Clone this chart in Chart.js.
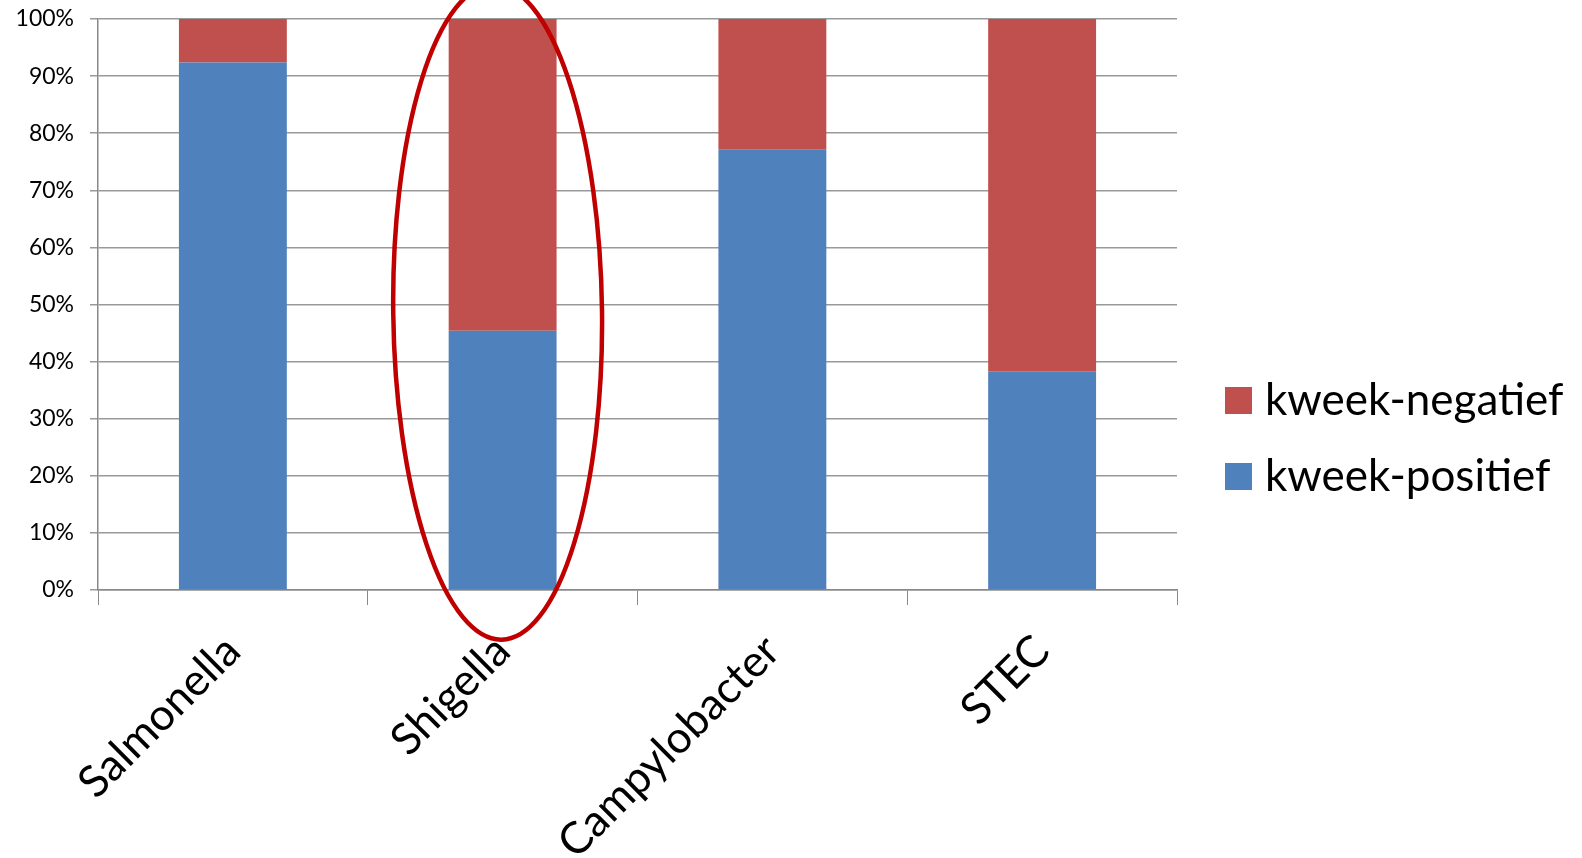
<!DOCTYPE html>
<html>
<head>
<meta charset="utf-8">
<script src="https://cdn.jsdelivr.net/npm/chart.js@4/dist/chart.umd.min.js"></script>
<style>
    html, body { margin: 0; padding: 0; background: #fff; }
    #wrap { width: 1582px; height: 858px; position: relative; }
</style>
</head>
<body>
<div id="wrap"><canvas id="chart"></canvas></div>
<script>
// dati del grafico
const categories = ['Salmonella', 'Shigella', 'Campylobacter', 'STEC'];
const positief = [92.4, 45.4, 77.1, 38.3];
const negatief = [7.6, 54.6, 22.9, 61.7];
const yTicks = [0, 10, 20, 30, 40, 50, 60, 70, 80, 90, 100];

// ellisse rossa attorno a Shigella
const ellipsePlugin = {
    id: 'ellipse',
    afterDatasetsDraw(chart) {
        const x = chart.scales.x;
        const y = chart.scales.y;
        const ctx = chart.ctx;
        const cx = x.getPixelForValue(1) - 5;
        const catW = x.getPixelForValue(1) - x.getPixelForValue(0);
        const top = y.getPixelForValue(106);
        const bottom = y.getPixelForValue(-8.7);
        ctx.save();
        ctx.beginPath();
        ctx.ellipse(cx, (top + bottom) / 2, catW * 0.387, (bottom - top) / 2, -0.012, 0, Math.PI * 2);
        ctx.lineWidth = 4.5;
        ctx.strokeStyle = '#c00000';
        ctx.stroke();
        ctx.restore();
    }
};

// quadratini della legenda, più vicini al testo
const legendBoxes = {
    id: 'legendBoxes',
    afterDraw(chart) {
        const legend = chart.legend;
        const ctx = chart.ctx;
        legend.legendHitBoxes.forEach((hb, i) => {
            const item = legend.legendItems[i];
            ctx.fillStyle = chart.data.datasets[item.datasetIndex].backgroundColor;
            ctx.fillRect(hb.left + 16, hb.top + hb.height / 2 - 13.5, 27, 27);
        });
    }
};

const ctx = document.getElementById('chart').getContext('2d');
new Chart(ctx, {
    type: 'bar',
    data: {
        labels: categories,
        datasets: [{
            label: 'kweek-positief',
            data: positief,
            backgroundColor: '#4f81bd',
            barPercentage: 0.4,
            categoryPercentage: 1
        }, {
            label: 'kweek-negatief',
            data: negatief,
            backgroundColor: '#c0504d',
            barPercentage: 0.4,
            categoryPercentage: 1
        }]
    },
    options: {
        responsive: true,
        maintainAspectRatio: false,
        animation: false,
        layout: {
            padding: { top: 19, right: 8, left: 0, bottom: 0 }
        },
        plugins: {
            legend: {
                position: 'right',
                reverse: true,
                labels: {
                    boxWidth: 34,
                    boxHeight: 27,
                    padding: 32,
                    color: '#000',
                    font: { family: 'Lato', size: 44 },
                    generateLabels(chart) {
                        const items = Chart.defaults.plugins.legend.labels.generateLabels(chart);
                        return items.map(it => Object.assign(it, {
                            fillStyle: 'rgba(0,0,0,0)',
                            strokeStyle: 'rgba(0,0,0,0)',
                            lineWidth: 0
                        }));
                    }
                }
            },
            tooltip: { enabled: false }
        },
        scales: {
            x: {
                stacked: true,
                grid: {
                    drawOnChartArea: false,
                    drawTicks: true,
                    tickLength: 15,
                    color: '#888'
                },
                border: { color: '#888', width: 1.5 },
                ticks: {
                    color: '#000',
                    minRotation: 45,
                    maxRotation: 45,
                    padding: 20,
                    font: { family: 'Lato', size: 44 }
                },
                afterFit(scale) {
                    scale.height = 268;
                    scale.paddingRight = 405;
                }
            },
            y: {
                stacked: true,
                min: 0,
                max: 100,
                grid: {
                    color: '#999',
                    lineWidth: 1.5,
                    tickLength: 8
                },
                border: { color: '#888', width: 1.5 },
                afterBuildTicks(scale) {
                    scale.ticks = yTicks.map(v => ({ value: v }));
                },
                ticks: {
                    color: '#000',
                    padding: 16,
                    font: { family: 'Lato', size: 23 },
                    callback: v => v + '%'
                },
                afterFit(scale) {
                    scale.width = 98;
                    scale.paddingTop = 0;
                    scale.paddingBottom = 0;
                }
            }
        }
    },
    plugins: [ellipsePlugin, legendBoxes]
});
</script>
</body>
</html>
